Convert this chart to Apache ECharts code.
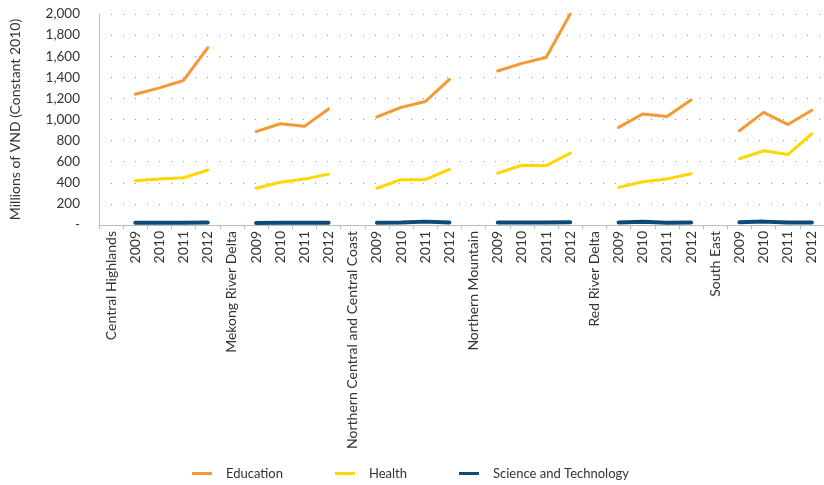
<!DOCTYPE html>
<html>
<head>
<meta charset="utf-8">
<script src="https://cdn.jsdelivr.net/npm/echarts@6/dist/echarts.min.js"></script>
<style>
  html, body { margin: 0; padding: 0; background: #fff; }
  #chart { width: 824px; height: 485px; }
</style>
</head>
<body>
<div id="chart"></div>
<script>
// regions and years
const regions = ['Central Highlands', 'Mekong River Delta', 'Northern Central and Central Coast',
  'Northern Mountain', 'Red River Delta', 'South East'];
const years = ['2009', '2010', '2011', '2012'];

// values per region, 2009-2012
const education = [
  [1240, 1300, 1370, 1680],
  [885, 960, 935, 1100],
  [1025, 1115, 1170, 1380],
  [1460, 1532, 1588, 2000],
  [925, 1052, 1028, 1185],
  [893, 1068, 953, 1088]
];
const health = [
  [420, 435, 448, 520],
  [348, 405, 435, 482],
  [348, 430, 430, 528],
  [492, 566, 562, 682],
  [357, 410, 437, 485],
  [628, 703, 668, 865]
];
const science = [
  [22, 22, 22, 24],
  [20, 22, 22, 22],
  [22, 24, 32, 24],
  [24, 24, 24, 26],
  [24, 30, 22, 24],
  [26, 32, 24, 24]
];

// build category axis: region label then its years, value null under region label
const categories = [];
regions.forEach(r => { categories.push(r); years.forEach(y => categories.push(y)); });
function flat(arr) {
  const out = [];
  arr.forEach(row => { out.push(null); row.forEach(v => out.push(v)); });
  return out;
}

const chart = echarts.init(document.getElementById('chart'));
const font = 'Lato';
const lineSeries = (name, data, color, width) => ({
  name: name,
  type: 'line',
  data: flat(data),
  symbol: 'none',
  connectNulls: false,
  lineStyle: { color: color, width: width, cap: 'round', join: 'round' },
  itemStyle: { color: color }
});

chart.setOption({
  animation: false,
  textStyle: { fontFamily: font },
  grid: { left: 98, top: 14, width: 730, height: 211, containLabel: false },
  legend: {
    left: 187,
    top: 462,
    itemWidth: 20,
    itemHeight: 3,
    itemGap: 52,
    icon: 'rect',
    textStyle: { fontFamily: font, fontSize: 13, color: '#333', padding: [0, 0, 0, 9] },
    data: ['Education', 'Health', 'Science and Technology']
  },
  xAxis: {
    type: 'category',
    data: categories,
    axisLine: { lineStyle: { color: '#bbb', width: 1 } },
    axisTick: { show: true, interval: 0, length: 4, lineStyle: { color: '#bbb' } },
    axisLabel: { interval: 0, rotate: 90, fontSize: 14, color: '#333', fontFamily: font, margin: 6 }
  },
  yAxis: {
    type: 'value',
    min: 0,
    max: 2000,
    interval: 200,
    name: 'Millions of VND (Constant 2010)',
    nameLocation: 'middle',
    nameGap: 77,
    nameTextStyle: { fontSize: 14, color: '#333', fontFamily: font },
    axisLine: { show: true, lineStyle: { color: '#bbb', width: 1 } },
    axisTick: { show: false },
    axisLabel: {
      fontSize: 13.5, color: '#333', fontFamily: font, margin: 19,
      formatter: v => v === 0 ? '-' : v.toLocaleString('en-US')
    },
    splitLine: { show: true, lineStyle: { color: '#999', type: [1, 11], width: 1 } }
  },
  series: [
    lineSeries('Education', education, '#F39A35', 3),
    lineSeries('Health', health, '#FFD600', 3),
    lineSeries('Science and Technology', science, '#0C4A7A', 4)
  ]
});
</script>
</body>
</html>
